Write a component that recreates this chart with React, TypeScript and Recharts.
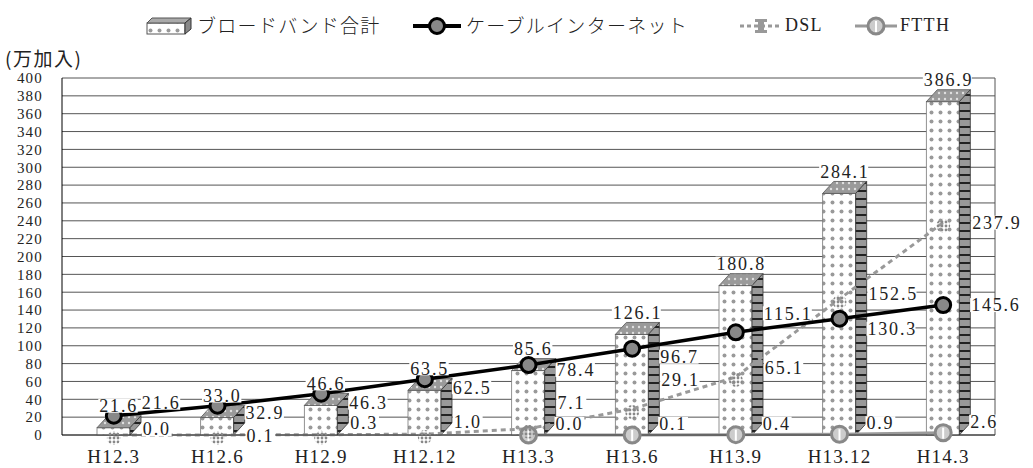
import React from 'react';
import { ComposedChart, Bar, Line, XAxis, YAxis, CartesianGrid, LabelList } from 'recharts';

const categories = ['H12.3', 'H12.6', 'H12.9', 'H12.12', 'H13.3', 'H13.6', 'H13.9', 'H13.12', 'H14.3'];
const broadband = [21.6, 33.0, 46.6, 63.5, 85.6, 126.1, 180.8, 284.1, 386.9];
const cable = [21.6, 32.9, 46.3, 62.5, 78.4, 96.7, 115.1, 130.3, 145.6];
const dsl = [0.0, 0.1, 0.3, 1.0, 7.1, 29.1, 65.1, 152.5, 237.9];
const ftth = [null, null, null, null, 0.0, 0.1, 0.4, 0.9, 2.6];
const yTicks = [0, 20, 40, 60, 80, 100, 120, 140, 160, 180, 200, 220, 240, 260, 280, 300, 320, 340, 360, 380, 400];

const seriesNames = ['ブロードバンド合計', 'ケーブルインターネット', 'DSL', 'FTTH'];

// hand-placed label nudges from the original (vertical, px)
const cableLabelDy = [-13, 7, 9, 8, 5, 8, -19, 10, 0];
const dslLabelDy = [-6, 1, -12, -12, -26, -29, -9, -5, 0];

const data = categories.map((name, i) => ({
  name,
  broadband: broadband[i],
  cable: cable[i],
  dsl: dsl[i],
  ftth: ftth[i],
}));

const SERIF = "'Liberation Serif', 'Times New Roman', Times, 'DejaVu Serif', serif";
const JP = "'Noto Sans CJK JP', sans-serif";

// depth of the fake 3D box
const DX = 11;
const DY = 12;

const Box3D = (props: any) => {
  const { x, y, width, height } = props;
  if (height == null || width == null) return null;
  const bottom = y + height;
  const fy = Math.min(y + DY, bottom);
  return (
    <g>
      <rect x={x} y={fy} width={width} height={bottom - fy} fill="url(#frontDots)" stroke="#777" strokeWidth={0.8} />
      <polygon
        points={`${x},${fy} ${x + DX},${y} ${x + width + DX},${y} ${x + width},${fy}`}
        fill="url(#topDots)"
        stroke="#555"
        strokeWidth={0.8}
      />
      <polygon
        points={`${x + width},${fy} ${x + width + DX},${y} ${x + width + DX},${bottom - DY} ${x + width},${bottom}`}
        fill="url(#sideStripes)"
        stroke="#333"
        strokeWidth={0.8}
      />
    </g>
  );
};

// label with a white box behind it, like the Excel original
const ValueText = ({ x, y, text, anchor }: { x: number; y: number; text: string; anchor: 'start' | 'middle' }) => {
  const w = text.length * 9.6;
  const left = anchor === 'middle' ? x - w / 2 : x;
  return (
    <g>
      <rect x={left - 1} y={y - 7} width={w + 1} height={14} fill="#fff" />
      <text
        x={left}
        y={y}
        dy="0.35em"
        style={{ fontFamily: SERIF }}
        fontSize={18}
        letterSpacing={1.8}
        fill="#222"
      >
        {text}
      </text>
    </g>
  );
};

const barLabel = (props: any) => {
  const { x, y, width, value } = props;
  if (value == null) return null;
  return <ValueText x={x + width / 2 + 5} y={y - 10} text={Number(value).toFixed(1)} anchor="middle" />;
};

const lineLabel = (dx: number, dys: number[] | number) => (props: any) => {
  const { x, y, value, index } = props;
  if (value == null || x == null || y == null) return null;
  const dy = Array.isArray(dys) ? dys[index] ?? 0 : dys;
  return <ValueText x={x + dx} y={y + dy} text={Number(value).toFixed(1)} anchor="start" />;
};

const CableDot = (props: any) => {
  const { cx, cy } = props;
  if (cx == null || cy == null) return null;
  return <circle cx={cx} cy={cy} r={7.5} fill="#888" stroke="#000" strokeWidth={3} />;
};

const DslDot = (props: any) => {
  const { cx, cy } = props;
  if (cx == null || cy == null) return null;
  return <circle cx={cx} cy={cy + 3} r={7} fill="url(#grayDots)" />;
};

const FtthDot = (props: any) => {
  const { cx, cy, value } = props;
  if (cx == null || cy == null || value == null) return null;
  return (
    <g>
      <circle cx={cx} cy={cy} r={8} fill="#ccc" stroke="#888" strokeWidth={3} />
      <line x1={cx} y1={cy - 5} x2={cx} y2={cy + 6} stroke="#fff" strokeWidth={2} />
    </g>
  );
};

const legendText: React.CSSProperties = {
  position: 'absolute',
  top: 13,
  fontFamily: JP,
  fontSize: 19,
  fontWeight: 300,
  letterSpacing: 1.3,
  color: '#222',
  lineHeight: '24px',
  whiteSpace: 'nowrap',
};

const ChartLegend = () => (
  <div style={{ position: 'absolute', left: 0, top: 0, width: 1033, height: 40 }}>
    <svg style={{ position: 'absolute', left: 146, top: 17 }} width={48} height={18}>
      <rect x={1} y={6} width={38} height={11} fill="url(#frontDots)" stroke="#555" />
      <polygon points="1,6 6,1 45,1 39,6" fill="#aaa" stroke="#555" />
      <polygon points="39,6 45,1 45,12 39,17" fill="#888" stroke="#333" />
    </svg>
    <span style={{ ...legendText, left: 197 }}>{seriesNames[0]}</span>
    <svg style={{ position: 'absolute', left: 413, top: 15 }} width={48} height={22}>
      <line x1={0} y1={11} x2={48} y2={11} stroke="#000" strokeWidth={4} />
      <circle cx={24} cy={11} r={7.5} fill="#888" stroke="#000" strokeWidth={3} />
    </svg>
    <span style={{ ...legendText, left: 466 }}>{seriesNames[1]}</span>
    <svg style={{ position: 'absolute', left: 740, top: 15 }} width={42} height={22}>
      <line x1={0} y1={11} x2={42} y2={11} stroke="#999" strokeWidth={3} strokeDasharray="4 3" />
      <rect x={18} y={4} width={6} height={14} fill="#999" />
      <rect x={15} y={4} width={12} height={3} fill="#999" />
      <rect x={15} y={15} width={12} height={3} fill="#999" />
    </svg>
    <span style={{ ...legendText, left: 785, fontFamily: SERIF, fontSize: 18, fontWeight: 400 }}>{seriesNames[2]}</span>
    <svg style={{ position: 'absolute', left: 855, top: 15 }} width={42} height={22}>
      <line x1={0} y1={11} x2={42} y2={11} stroke="#999" strokeWidth={3} />
      <circle cx={21} cy={11} r={8} fill="#ccc" stroke="#888" strokeWidth={3} />
      <line x1={21} y1={6} x2={21} y2={17} stroke="#fff" strokeWidth={2} />
    </svg>
    <span style={{ ...legendText, left: 900, fontFamily: SERIF, fontSize: 18, fontWeight: 400 }}>{seriesNames[3]}</span>
  </div>
);

export default function App() {
  return (
    <div style={{ position: 'absolute', left: 0, top: 0, width: 1033, height: 468, background: '#fff' }}>
      <ComposedChart
        width={1033}
        height={468}
        data={data}
        margin={{ top: 78, right: 38, bottom: 0, left: 0 }}
      >
        <defs>
          <pattern id="frontDots" width={9} height={9} patternUnits="userSpaceOnUse">
            <rect width={9} height={9} fill="#fff" />
            <circle cx={4.5} cy={4.5} r={2} fill="#999" />
          </pattern>
          <pattern id="topDots" width={6} height={6} patternUnits="userSpaceOnUse">
            <rect width={6} height={6} fill="#9a9a9a" />
            <circle cx={3} cy={3} r={1.2} fill="#e0e0e0" />
          </pattern>
          <pattern id="sideStripes" width={6} height={8} patternUnits="userSpaceOnUse">
            <rect width={6} height={8} fill="#999" />
            <rect y={6} width={6} height={2} fill="#222" />
          </pattern>
          <pattern id="grayDots" width={4} height={4} patternUnits="userSpaceOnUse">
            <circle cx={2} cy={2} r={1.4} fill="#888" />
          </pattern>
        </defs>
        <CartesianGrid
          vertical
          horizontal
          stroke="#555"
          strokeWidth={1}
          verticalCoordinatesGenerator={({ offset }: any) => [offset.left + offset.width]}
        />
        <XAxis
          dataKey="name"
          height={33}
          tickSize={0}
          tickMargin={15}
          axisLine={{ stroke: '#333' }}
          tickLine={false}
          interval={0}
          tick={{ style: { fontFamily: SERIF }, fontSize: 19, letterSpacing: 1.2, fill: '#222' }}
        />
        <YAxis
          width={62}
          domain={[0, 400]}
          ticks={yTicks}
          interval={0}
          tickSize={0}
          tickMargin={19}
          axisLine={{ stroke: '#000' }}
          tickLine={false}
          tick={{ style: { fontFamily: SERIF }, fontSize: 15, letterSpacing: 1.2, fill: '#222' }}
        />
        <Bar dataKey="broadband" name={seriesNames[0]} barSize={33} shape={Box3D} isAnimationActive={false}>
          <LabelList dataKey="broadband" content={barLabel} />
        </Bar>
        <Line
          dataKey="ftth"
          name={seriesNames[3]}
          stroke="#9a9a9a"
          strokeWidth={3}
          dot={FtthDot}
          activeDot={false}
          isAnimationActive={false}
        >
          <LabelList dataKey="ftth" content={lineLabel(27, -11)} />
        </Line>
        <Line
          dataKey="dsl"
          name={seriesNames[2]}
          stroke="#999"
          strokeWidth={3}
          strokeDasharray="5 4"
          dot={DslDot}
          activeDot={false}
          isAnimationActive={false}
        >
          <LabelList dataKey="dsl" content={lineLabel(29, dslLabelDy)} />
        </Line>
        <Line
          dataKey="cable"
          name={seriesNames[1]}
          stroke="#000"
          strokeWidth={3.5}
          dot={CableDot}
          activeDot={false}
          isAnimationActive={false}
        >
          <LabelList dataKey="cable" content={lineLabel(28, cableLabelDy)} />
        </Line>
      </ComposedChart>
      <ChartLegend />
      <div
        style={{
          position: 'absolute',
          left: 5,
          top: 45,
          fontFamily: JP,
          fontSize: 19,
          letterSpacing: 1.5,
          color: '#222',
          lineHeight: '26px',
        }}
      >
        (万加入)
      </div>
    </div>
  );
}
